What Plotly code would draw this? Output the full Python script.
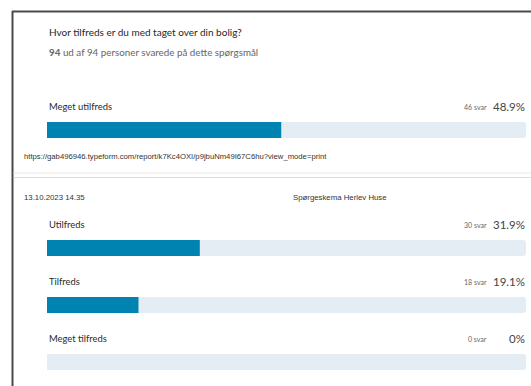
import plotly.graph_objects as go

W, H = 531, 386

# Survey question and answers
question = "Hvor tilfreds er du med taget over din bolig?"
answered = 94
total = 94
page_url = "https://gab496946.typeform.com/report/k7Kc4OXI/p9jbuNm49I67C6hu?view_mode=print"
print_date = "13.10.2023 14.35"
survey_name = "Spørgeskema Herlev Huse"

categories_page1 = ["Meget utilfreds"]
counts_page1 = [46]
percents_page1 = [48.9]

categories_page2 = ["Utilfreds", "Tilfreds", "Meget tilfreds"]
counts_page2 = [30, 18, 0]
percents_page2 = [31.9, 19.1, 0]

BLUE = "#0083b0"
TRACK = "#e4ecf4"
LABEL_FONT = "Lato"


def px(x):
    return x / W


def py(y):
    return 1 - y / H


fig = go.Figure()

# page 1 bars on y, page 2 bars on y2; both share the x axis (0-100 %)
for cats, pcts, yax in [(categories_page1, percents_page1, "y"),
                        (categories_page2, percents_page2, "y2")]:
    fig.add_trace(go.Bar(
        y=cats, x=[100] * len(cats), orientation="h", yaxis=yax,
        marker=dict(color=TRACK, line=dict(width=0)), width=0.28,
        hoverinfo="skip", showlegend=False))
    fig.add_trace(go.Bar(
        y=cats, x=pcts, orientation="h", yaxis=yax,
        marker=dict(color=BLUE, line=dict(width=0)), width=0.28,
        showlegend=False))

annotations = []


def pct_text(p):
    return f"{p:g}%"


for cats, counts, pcts, yref in [(categories_page1, counts_page1, percents_page1, "y"),
                                 (categories_page2, counts_page2, percents_page2, "y2")]:
    for c, n, p in zip(cats, counts, pcts):
        annotations.append(dict(
            x=0, y=c, xref="x", yref=yref, xanchor="left", yanchor="middle",
            yshift=24, text=c, showarrow=False,
            font=dict(family=LABEL_FONT, size=9.4, color="#2a2a2a")))
        annotations.append(dict(
            x=100, y=c, xref="x", yref=yref, xanchor="right", yanchor="middle",
            yshift=24, xshift=1, text=pct_text(p), showarrow=False,
            font=dict(family=LABEL_FONT, size=11.5, color="#444444")))
        annotations.append(dict(
            x=100, y=c, xref="x", yref=yref, xanchor="right", yanchor="middle",
            yshift=23, xshift=-37, text=f"{n} svar", showarrow=False,
            font=dict(family=LABEL_FONT, size=7, color="#666666")))

# question header
annotations.append(dict(
    x=px(47), y=py(32), xref="paper", yref="paper", xanchor="left",
    yanchor="middle", text=question, showarrow=False,
    font=dict(family=LABEL_FONT, size=10, color="#262627")))
annotations.append(dict(
    x=px(47), y=py(52), xref="paper", yref="paper", xanchor="left",
    yanchor="middle", showarrow=False,
    text=f"<b>{answered}</b> ud af {total} personer svarede på dette spørgsmål",
    font=dict(family=LABEL_FONT, size=9.8, color="#666666")))

# print footer / header
annotations.append(dict(
    x=px(22), y=py(156), xref="paper", yref="paper", xanchor="left",
    yanchor="middle", text=page_url, showarrow=False,
    font=dict(family="Liberation Sans", size=7.7, color="#333333")))
annotations.append(dict(
    x=px(22), y=py(197), xref="paper", yref="paper", xanchor="left",
    yanchor="middle", text=print_date, showarrow=False,
    font=dict(family="Liberation Sans", size=7.8, color="#333333")))
annotations.append(dict(
    x=px(340), y=py(197), xref="paper", yref="paper", xanchor="center",
    yanchor="middle", text=survey_name, showarrow=False,
    font=dict(family="Liberation Sans", size=7.8, color="#333333")))

shapes = [
    # frame
    dict(type="line", xref="paper", yref="paper", x0=px(12), x1=1,
         y0=py(11.5), y1=py(11.5), line=dict(color="#4a4a4a", width=2)),
    dict(type="line", xref="paper", yref="paper", x0=px(12.5), x1=px(12.5),
         y0=py(11), y1=0, line=dict(color="#4a4a4a", width=2)),
    # page break
    dict(type="line", xref="paper", yref="paper", x0=px(13.5), x1=1,
         y0=py(173), y1=py(173), line=dict(color="#e6e6e6", width=1)),
    dict(type="line", xref="paper", yref="paper", x0=px(13.5), x1=1,
         y0=py(177.5), y1=py(177.5), line=dict(color="#dddddd", width=1)),
]

fig.update_layout(
    width=W, height=H,
    margin=dict(l=0, r=0, t=0, b=0),
    paper_bgcolor="white", plot_bgcolor="white",
    barmode="overlay", barcornerradius=3,
    xaxis=dict(domain=[px(47), px(526)], range=[0, 100], visible=False,
               fixedrange=True),
    yaxis=dict(domain=[py(158.5), py(101.5)], type="category",
               categoryarray=categories_page1, range=[0.5, -0.5],
               visible=False, anchor="x"),
    yaxis2=dict(domain=[0, py(219.5)], type="category",
                categoryarray=categories_page2, range=[2.421, -0.5],
                visible=False, anchor="x"),
    annotations=annotations,
    shapes=shapes,
)

fig.write_html("out.html")
